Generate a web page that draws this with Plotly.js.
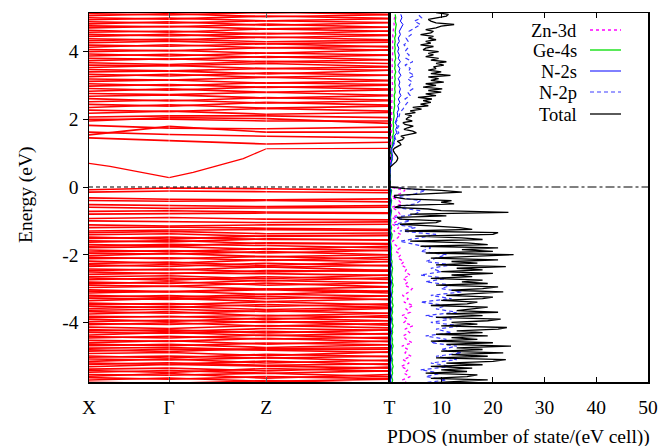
<!DOCTYPE html>
<html>
<head>
<meta charset="utf-8">
<script src="https://cdn.plot.ly/plotly-3.0.1.min.js"></script>
<style>html,body{margin:0;padding:0;background:#fff;}#chart{width:662px;height:446px;}</style>
</head>
<body>
<div id="chart"></div>
<script>
// ---- band structure: k-path positions and tick labels ----
const kPathTicks = [0, 0.80, 1.77, 3.00];
const kPathLabels = ['X', 'Γ', 'Z', 'T'];
const energyTicks = [-4, -2, 0, 2, 4];
const energyTickText = ['-4', '-2', '0', '2', '4'];

// band energies (eV) at X, Γ, Z, T
const bandAtX = [
-5.82,-5.77,-5.70,-5.63,-5.59,-5.54,-5.47,-5.42,-5.38,-5.31,
-5.24,-5.20,-5.15,-5.08,-5.03,-4.99,-4.92,-4.85,-4.81,-4.76,
-4.69,-4.64,-4.60,-4.53,-4.46,-4.42,-4.37,-4.30,-4.25,-4.21,
-4.14,-4.07,-4.03,-3.98,-3.91,-3.86,-3.82,-3.75,-3.68,-3.64,
-3.59,-3.52,-3.47,-3.43,-3.36,-3.29,-3.25,-3.20,-3.13,-3.08,
-3.04,-2.97,-2.90,-2.86,-2.81,-2.74,-2.69,-2.65,-2.58,-2.51,
-2.47,-2.42,-2.35,-2.30,-2.26,-2.19,-2.12,-2.08,-2.03,-1.96,
-1.92,-1.86,-1.79,-1.75,-1.70,-1.63,-1.59,-1.52,-1.48,-1.41,
-1.35,-1.30,-1.20,-1.12,-1.00,-0.93,-0.80,-0.72,-0.60,-0.52,
-0.40,-0.32,-0.15,-0.08,
1.45,1.54,1.82,2.00,2.07,1.62,1.95,
2.18,2.27,2.35,2.44,2.52,2.61,2.68,2.76,2.83,2.91,
2.98,3.05,3.12,3.19,3.26,3.33,3.40,3.47,3.53,3.60,
3.67,3.73,3.80,3.87,3.93,4.00,4.06,4.13,4.19,4.26,
4.32,4.38,4.45,4.51,4.57,4.63,4.70,4.76,4.82,4.88,
4.94,5.00,5.06,5.12,5.18,5.24];
const bandAtG = [
-5.78,-5.80,-5.64,-5.68,-5.51,-5.56,-5.42,-5.48,-5.35,-5.24,
-5.19,-5.24,-5.08,-5.11,-4.99,-5.05,-4.89,-4.79,-4.86,-4.74,
-4.65,-4.69,-4.54,-4.56,-4.41,-4.46,-4.30,-4.32,-4.22,-4.27,
-4.18,-4.01,-4.06,-3.93,-3.97,-3.82,-3.84,-3.68,-3.73,-3.61,
-3.53,-3.56,-3.44,-3.48,-3.29,-3.32,-3.21,-3.26,-3.08,-3.10,
-3.09,-2.93,-2.93,-2.80,-2.85,-2.69,-2.75,-2.62,-2.54,-2.56,
-2.42,-2.45,-2.29,-2.35,-2.22,-2.25,-2.09,-2.12,-1.96,-1.98,
-1.88,-1.91,-1.76,-1.69,-1.74,-1.58,-1.62,-1.48,-1.54,-1.38,
-1.31,-1.27,-1.18,-1.15,-1.02,-0.90,-0.78,-0.70,-0.63,-0.55,
-0.42,-0.36,-0.12,-0.03,
1.37,1.79,1.74,2.00,2.10,1.55,2.05,
2.24,2.23,2.43,2.39,2.57,2.54,2.72,2.73,2.90,2.86,
3.03,2.99,3.16,3.16,3.33,3.28,3.43,3.43,3.59,3.58,
3.62,3.79,3.77,3.92,3.87,4.04,4.02,4.20,4.16,4.31,
4.37,4.34,4.51,4.46,4.61,4.57,4.75,4.73,4.88,4.84,
4.99,4.96,5.12,5.08,5.22,5.20];
const bandAtZ = [
-5.84,-5.72,-5.74,-5.60,-5.65,-5.50,-5.50,-5.36,-5.43,-5.29,
-5.27,-5.14,-5.20,-5.04,-5.05,-4.94,-4.98,-4.82,-4.77,-4.81,
-4.74,-4.61,-4.64,-4.47,-4.49,-4.37,-4.39,-4.26,-4.31,-4.18,
-4.09,-4.11,-3.97,-4.00,-3.87,-3.91,-3.79,-3.81,-3.66,-3.68,
-3.62,-3.47,-3.53,-3.39,-3.38,-3.23,-3.30,-3.17,-3.17,-3.03,
-3.01,-3.02,-2.84,-2.90,-2.76,-2.77,-2.65,-2.71,-2.56,-2.47,
-2.51,-2.36,-2.37,-2.25,-2.32,-2.15,-2.17,-2.05,-2.06,-1.91,
-1.95,-1.82,-1.84,-1.73,-1.65,-1.67,-1.53,-1.55,-1.44,-1.46,
-1.38,-1.26,-1.22,-1.12,-1.05,-0.95,-0.77,-0.74,-0.62,-0.58,
-0.40,-0.38,-0.14,-0.05,
1.27,1.62,1.72,1.95,2.10,1.50,2.02,
2.15,2.32,2.33,2.50,2.48,2.64,2.63,2.80,2.80,2.96,
2.94,3.08,3.07,3.24,3.24,3.37,3.34,3.50,3.50,3.65,
3.71,3.70,3.85,3.83,3.96,3.95,4.12,4.11,4.23,4.23,
4.29,4.43,4.41,4.54,4.52,4.67,4.67,4.81,4.78,4.91,
4.91,5.05,5.03,5.16,5.15,5.28];
const bandAtT = [
-5.79,-5.81,-5.68,-5.66,-5.54,-5.60,-5.43,-5.44,-5.32,-5.35,
-5.22,-5.25,-5.11,-5.14,-5.00,-5.01,-4.87,-4.89,-4.75,-4.79,
-4.66,-4.66,-4.55,-4.57,-4.44,-4.48,-4.33,-4.35,-4.22,-4.23,
-4.16,-4.03,-4.08,-3.95,-3.95,-3.80,-3.85,-3.73,-3.73,-3.59,
-3.55,-3.55,-3.45,-3.49,-3.31,-3.33,-3.22,-3.22,-3.07,-3.13,
-3.08,-2.95,-2.95,-2.83,-2.83,-2.68,-2.73,-2.60,-2.61,-2.49,
-2.45,-2.47,-2.31,-2.33,-2.20,-2.21,-2.07,-2.14,-2.00,-2.00,
-1.87,-1.88,-1.75,-1.80,-1.67,-1.69,-1.57,-1.56,-1.43,-1.43,
-1.36,-1.28,-1.25,-1.10,-1.03,-0.97,-0.78,-0.76,-0.60,-0.55,
-0.44,-0.35,-0.17,-0.10,
1.32,1.62,1.77,1.95,2.05,1.45,1.88,
2.20,2.24,2.39,2.42,2.55,2.57,2.70,2.71,2.87,2.89,
3.01,3.03,3.14,3.15,3.30,3.30,3.45,3.45,3.55,3.56,
3.65,3.76,3.76,3.89,3.90,4.05,4.04,4.16,4.14,4.28,
4.34,4.35,4.48,4.49,4.61,4.60,4.72,4.72,4.85,4.86,
4.97,4.98,5.09,5.10,5.21,5.22];

// lowest conduction band, sampled more finely along the path
const cbMinK = [0, 0.21, 0.80, 1.04, 1.54, 1.77, 3.00];
const cbMinE = [0.70, 0.61, 0.28, 0.43, 0.84, 1.13, 1.14];

// ---- PDOS ----
const energyFine = [
-5.80,-5.75,-5.70,-5.65,-5.60,-5.55,-5.50,-5.45,-5.40,-5.35,
-5.30,-5.25,-5.20,-5.15,-5.10,-5.05,-5.00,-4.95,-4.90,-4.85,
-4.80,-4.75,-4.70,-4.65,-4.60,-4.55,-4.50,-4.45,-4.40,-4.35,
-4.30,-4.25,-4.20,-4.15,-4.10,-4.05,-4.00,-3.95,-3.90,-3.85,
-3.80,-3.75,-3.70,-3.65,-3.60,-3.55,-3.50,-3.45,-3.40,-3.35,
-3.30,-3.25,-3.20,-3.15,-3.10,-3.05,-3.00,-2.95,-2.90,-2.85,
-2.80,-2.75,-2.70,-2.65,-2.60,-2.55,-2.50,-2.45,-2.40,-2.35,
-2.30,-2.25,-2.20,-2.15,-2.10,-2.05,-2.00,-1.95,-1.90,-1.85,
-1.80,-1.75,-1.70,-1.65,-1.60,-1.55,-1.50,-1.45,-1.40,-1.35,
-1.30,-1.25,-1.20,-1.15,-1.10,-1.05,-1.00,-0.95,-0.90,-0.85,
-0.80,-0.75,-0.70,-0.65,-0.60,-0.55,-0.50,-0.45,-0.40,-0.35,
-0.30,-0.25,-0.20,-0.15,-0.10,-0.05,0.00,0.05,0.10,0.15,
0.20,0.25,0.30,0.35,0.40,0.45,0.50,0.55,0.60,0.65,
0.70,0.75,0.80,0.85,0.90,0.95,1.00,1.05,1.10,1.15,
1.20,1.25,1.30,1.35,1.40,1.45,1.50,1.55,1.60,1.65,
1.70,1.75,1.80,1.85,1.90,1.95,2.00,2.05,2.10,2.15,
2.20,2.25,2.30,2.35,2.40,2.45,2.50,2.55,2.60,2.65,
2.70,2.75,2.80,2.85,2.90,2.95,3.00,3.05,3.10,3.15,
3.20,3.25,3.30,3.35,3.40,3.45,3.50,3.55,3.60,3.65,
3.70,3.75,3.80,3.85,3.90,3.95,4.00,4.05,4.10,4.15,
4.20,4.25,4.30,4.35,4.40,4.45,4.50,4.55,4.60,4.65,
4.70,4.75,4.80,4.85,4.90,4.95,5.00,5.05,5.10,5.15];
const dosTotal = [
6,14,19,8,15,17,7,15,10,16,
8,18,11,20,22.5,9,19,12,22,10,
18,13,23.5,11,20,8,17,12,19,9,
18,13,21,22.7,10,17,12,19,21.5,9,
18,11,21,13,16,19,8,15,17,10,
18,20,11,17,22,12,18,21,9,19,
14,18,8,16,12,20,10,18,13,22.5,
9,17,12,21,8,16,24,7,20,14,
21,6,19,15,4,18,14,5,20,21,
3,16,13.5,8,2,9,10,2,1.5,11,
4,23,10,7.5,1,2,12.5,10,12,3,
1,1,9,14,10,3,0,0,0,0,
0,0,0,0,0,0,0,0,0.2,0.6,
1.0,1.3,1.5,1.6,1.5,1.2,1.0,0.8,0.7,1.0,
1.6,2.2,2.0,1.5,2.5,2.8,2.2,3.5,5.2,4.5,
2.8,3.5,4.6,3.0,2.6,4.4,3.2,3.6,4.3,3.0,
5.0,4.0,6.2,4.5,7.5,6.0,8.0,6.5,8.2,5.5,
9.0,7.0,10.0,7.5,10.2,6.5,9.0,7.0,10.5,8.0,
9.5,7.5,11.8,8.0,10.0,7.5,9.0,8.5,10.5,9.0,
11.0,8.0,9.5,7.0,8.5,7.5,9.5,6.5,7.0,8.5,
6.0,8.0,7.0,9.0,7.5,8.5,6.0,8.0,8.5,7.0,
9.0,10.0,12.5,9.0,8.0,7.5,9.5,11.0,11.4,9.0];

const energyCoarse = [
-5.8,-5.7,-5.6,-5.5,-5.4,-5.3,-5.2,-5.1,-5.0,-4.9,
-4.8,-4.7,-4.6,-4.5,-4.4,-4.3,-4.2,-4.1,-4.0,-3.9,
-3.8,-3.7,-3.6,-3.5,-3.4,-3.3,-3.2,-3.1,-3.0,-2.9,
-2.8,-2.7,-2.6,-2.5,-2.4,-2.3,-2.2,-2.1,-2.0,-1.9,
-1.8,-1.7,-1.6,-1.5,-1.4,-1.3,-1.2,-1.1,-1.0,-0.9,
-0.8,-0.7,-0.6,-0.5,-0.4,-0.3,-0.2,-0.1,0.0,0.1,
0.2,0.3,0.4,0.5,0.6,0.7,0.8,0.9,1.0,1.1,
1.2,1.3,1.4,1.5,1.6,1.7,1.8,1.9,2.0,2.1,
2.2,2.3,2.4,2.5,2.6,2.7,2.8,2.9,3.0,3.1,
3.2,3.3,3.4,3.5,3.6,3.7,3.8,3.9,4.0,4.1,
4.2,4.3,4.4,4.5,4.6,4.7,4.8,4.9,5.0,5.1];
const dosN2p = [
6,11,7,10,6,12,8,13,9,14,
10,13,8,11,7,12,9,14,8,12,
7,13,9,11,6,12,8,14,10,12,
7,11,6,10,8,12,7,9,11,6,
8,5,2,6,9,2,5,1,4,1,
5,6,1,5,6,1,5,7,0,0,
0,0,0,0,0.1,0.4,0.6,0.5,0.4,0.3,
0.7,0.9,1.2,1.0,1.8,1.4,1.8,1.2,1.5,1.9,
2.0,2.6,3.0,3.5,3.0,4.0,3.5,4.5,3.8,4.4,
3.5,4.8,3.6,4.0,3.0,4.5,3.2,3.8,3.0,3.5,
2.8,3.6,3.2,4.2,3.8,5.0,6.0,4.8,6.2,5.5];
const dosZn3d = [
3.5,2.5,4.0,2.8,3.6,2.2,3.8,2.6,4.2,3.0,
3.6,2.4,4.4,3.2,2.6,3.9,3.0,4.5,2.8,3.5,
2.4,4.0,3.2,4.6,2.8,3.6,2.5,3.8,4.4,2.9,
3.6,2.6,4.0,3.0,3.4,2.2,2.8,1.6,2.2,1.2,
2.0,1.0,0.6,1.6,2.2,0.8,1.8,0.5,1.5,0.5,
2.0,1.6,0.4,2.4,1.8,0.4,2.0,3.0,0,0,
0,0,0,0,0.1,0.2,0.2,0.2,0.2,0.2,
0.3,0.3,0.3,0.3,0.4,0.3,0.4,0.3,0.4,0.4,
0.4,0.5,0.4,0.5,0.5,0.4,0.5,0.5,0.6,0.5,
0.5,0.6,0.5,0.6,0.5,0.6,0.5,0.6,0.6,0.5,
0.6,0.6,0.7,0.6,0.7,0.8,0.9,0.8,1.0,0.9];
const dosGe4s = [
0.5,0.6,0.4,0.6,0.5,0.7,0.5,0.6,0.4,0.6,
0.5,0.7,0.5,0.6,0.4,0.6,0.5,0.7,0.5,0.6,
0.4,0.6,0.5,0.7,0.5,0.6,0.4,0.6,0.5,0.7,
0.5,0.6,0.4,0.5,0.6,0.4,0.5,0.3,0.4,0.3,
0.4,0.3,0.2,0.4,0.5,0.2,0.4,0.2,0.3,0.2,
0.3,0.4,0.2,0.3,0.4,0.2,0.3,0.4,0,0,
0,0,0,0,0.1,0.3,0.5,0.4,0.3,0.3,
0.5,0.6,0.7,0.6,0.8,0.7,0.8,0.7,0.8,0.9,
0.8,0.9,1.0,0.9,1.0,0.9,1.1,1.0,1.1,1.0,
1.1,1.0,1.2,1.0,1.1,1.0,1.2,1.1,1.0,1.1,
1.0,1.1,1.0,1.2,1.1,1.2,1.3,1.1,1.2,1.1];
const dosN2s = [
0.3,0.2,0.4,0.2,0.3,0.3,0.2,0.4,0.3,0.2,
0.3,0.4,0.2,0.3,0.2,0.4,0.3,0.2,0.3,0.4,
0.2,0.3,0.4,0.2,0.3,0.2,0.4,0.3,0.2,0.3,
0.4,0.2,0.3,0.3,0.2,0.4,0.2,0.3,0.2,0.2,
0.3,0.2,0.1,0.2,0.3,0.1,0.2,0.1,0.2,0.1,
0.2,0.3,0.1,0.2,0.3,0.1,0.2,0.3,0,0,
0,0,0,0,0.1,0.3,0.5,0.6,0.5,0.4,
0.6,0.8,1.0,0.9,1.4,1.2,1.5,1.1,1.3,1.6,
1.5,1.8,1.6,2.0,1.7,2.2,1.9,2.1,1.8,2.0,
1.7,2.2,1.8,2.0,1.6,2.1,1.7,1.9,1.6,1.8,
1.5,1.9,1.7,2.1,1.9,2.3,2.6,2.1,2.4,2.2];

const pdosTicks = [10, 20, 30, 40, 50];
const legendNames = ['Zn-3d', 'Ge-4s', 'N-2s', 'N-2p', 'Total'];

// ---- build traces ----
const bandK = [], bandE = [];
for (let i = 0; i < bandAtX.length; i++) {
  const es = [bandAtX[i], bandAtG[i], bandAtZ[i], bandAtT[i]];
  for (let j = 0; j < 4; j++) { bandK.push(kPathTicks[j]); bandE.push(es[j]); }
  bandK.push(null); bandE.push(null);
}

const FONT = 'Liberation Serif';
const styles = [
  {color: '#ff00ff', width: 1.3, dash: 'dot'},
  {color: '#00dd00', width: 1.3, dash: 'solid'},
  {color: '#0000ff', width: 1, dash: 'solid'},
  {color: '#3c3cff', width: 1.2, dash: '4px,3px'},
  {color: '#000000', width: 1.3, dash: 'solid'}
];

const traces = [
  {type: 'scatter', mode: 'lines', x: bandK, y: bandE, xaxis: 'x', yaxis: 'y',
   line: {color: '#ff0000', width: 1.6}, connectgaps: false, hoverinfo: 'skip'},
  {type: 'scatter', mode: 'lines', x: cbMinK, y: cbMinE, xaxis: 'x', yaxis: 'y',
   line: {color: '#ff0000', width: 1.2}, hoverinfo: 'skip'},
  {type: 'scatter', mode: 'lines', name: legendNames[0], x: dosZn3d, y: energyCoarse, xaxis: 'x2', yaxis: 'y2', line: styles[0]},
  {type: 'scatter', mode: 'lines', name: legendNames[1], x: dosGe4s, y: energyCoarse, xaxis: 'x2', yaxis: 'y2', line: styles[1]},
  {type: 'scatter', mode: 'lines', name: legendNames[2], x: dosN2s, y: energyCoarse, xaxis: 'x2', yaxis: 'y2', line: styles[2]},
  {type: 'scatter', mode: 'lines', name: legendNames[3], x: dosN2p, y: energyCoarse, xaxis: 'x2', yaxis: 'y2', line: styles[3]},
  {type: 'scatter', mode: 'lines', name: legendNames[4], x: dosTotal, y: energyFine, xaxis: 'x2', yaxis: 'y2', line: styles[4]}
];

// ---- layout ----
const L = 89, R = 14, T = 13, B = 64, W = 662, H = 446;
const pw = W - L - R, ph = H - T - B;
const split = (389.5 - L) / pw;
const px2x = p => (p - L) / pw;
const py2y = p => (H - B - p) / ph;
const yRange = [-5.76, 5.14];

const annotations = [];
const shapes = [
  {type: 'line', xref: 'x', yref: 'y', x0: 0, x1: 3, y0: 0, y1: 0, line: {color: '#000', width: 1.2, dash: '4px,3px'}},
  {type: 'line', xref: 'x2', yref: 'y2', x0: 0, x1: 50, y0: 0, y1: 0, line: {color: '#000', width: 1, dash: 'dashdot'}},
  {type: 'line', xref: 'x', yref: 'paper', x0: 0.80, x1: 0.80, y0: 0, y1: 1, layer: 'above', line: {color: 'rgba(255,255,255,0.45)', width: 1}},
  {type: 'line', xref: 'x', yref: 'paper', x0: 1.77, x1: 1.77, y0: 0, y1: 1, layer: 'above', line: {color: 'rgba(255,255,255,0.45)', width: 1}}
];
const legendY = [31, 51, 72, 93, 115];
for (let i = 0; i < legendNames.length; i++) {
  annotations.push({xref: 'paper', yref: 'paper', x: px2x(579), y: py2y(legendY[i]), xanchor: 'right', yanchor: 'middle',
    text: legendNames[i], showarrow: false, font: {family: FONT, size: 18.5, color: '#000'}});
  shapes.push({type: 'line', xref: 'paper', yref: 'paper', x0: px2x(590), x1: px2x(621), y0: py2y(legendY[i] - 1), y1: py2y(legendY[i] - 1),
    line: styles[i]});
}
annotations.push({xref: 'paper', yref: 'paper', x: px2x(26), y: py2y(195), textangle: -90, xanchor: 'center', yanchor: 'middle',
  text: 'Energy (eV)', showarrow: false, font: {family: FONT, size: 19.5, color: '#000'}});
annotations.push({xref: 'paper', yref: 'paper', x: px2x(518), y: py2y(437), xanchor: 'center', yanchor: 'middle',
  text: 'PDOS (number of state/(eV cell))', showarrow: false, font: {family: FONT, size: 19.5, color: '#000'}});

const axisCommon = {showgrid: false, zeroline: false, showline: true, linecolor: '#000', linewidth: 1.5,
  tickcolor: '#000', tickfont: {family: FONT, size: 19.5, color: '#000'}};

const layout = {
  width: W, height: H,
  margin: {l: L, r: R, t: T, b: B, pad: 0},
  paper_bgcolor: '#fff', plot_bgcolor: '#fff',
  showlegend: false,
  font: {family: FONT, size: 19, color: '#000'},
  xaxis: Object.assign({}, axisCommon, {domain: [0, split], range: [0, 3.0], tickmode: 'array',
    tickvals: kPathTicks, ticktext: kPathLabels, ticks: 'inside', ticklen: 5, mirror: 'allticks', anchor: 'y',
    ticklabelstandoff: 7}),
  yaxis: Object.assign({}, axisCommon, {domain: [0, 1], range: yRange, tickmode: 'array', tickvals: energyTicks,
    ticktext: energyTickText, ticks: 'outside', ticklen: 5, mirror: true, anchor: 'x'}),
  xaxis2: Object.assign({}, axisCommon, {domain: [split, 1], range: [0, 50], tickmode: 'array', tickvals: pdosTicks,
    ticks: 'inside', ticklen: 5, mirror: 'allticks', anchor: 'y2', ticklabelstandoff: 7}),
  yaxis2: Object.assign({}, axisCommon, {domain: [0, 1], range: yRange, anchor: 'x2', showticklabels: false, ticks: '', mirror: true}),
  shapes: shapes,
  annotations: annotations
};

Plotly.newPlot('chart', traces, layout, {displayModeBar: false, staticPlot: true});
</script>
</body>
</html>
